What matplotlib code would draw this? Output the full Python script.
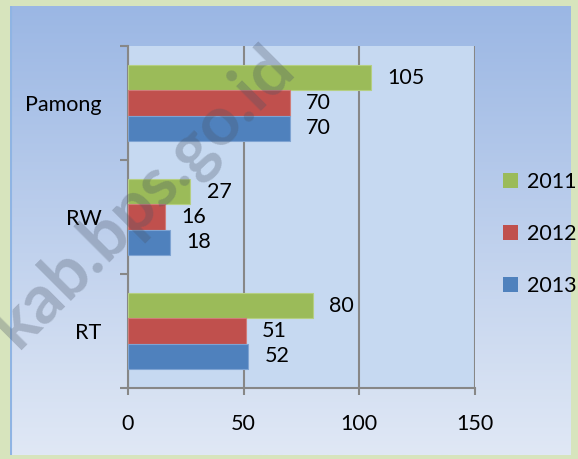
import numpy as np
import matplotlib
matplotlib.use('Agg')
import matplotlib.pyplot as plt
from matplotlib.patches import Patch

plt.rcParams['font.family'] = ['Lato', 'DejaVu Sans']

categories = ['RT', 'RW', 'Pamong']
years = ['2011', '2012', '2013']
v2011 = [80, 27, 105]
v2012 = [51, 16, 70]
v2013 = [52, 18, 70]
xticks = [0, 50, 100, 150]

colors = ['#9BBB59', '#C0504D', '#4F81BD']
edges = ['#B5CF82', '#D07C79', '#7EA3D2']

W, H = 578, 459
fs = 15.5
fig = plt.figure(figsize=(W / 100, H / 100), dpi=100)
fig.patch.set_facecolor('#D7E4BD')

# panel background with vertical gradient
bg = fig.add_axes([10 / W, 1 - 455 / H, 561 / W, 449 / H], zorder=-10)
top = np.array([0x9B, 0xB7, 0xE4]) / 255
bot = np.array([0xE0, 0xE8, 0xF5]) / 255
t = np.linspace(0, 1, 256)[:, None]
grad = (top[None, :] * (1 - t) + bot[None, :] * t)[:, None, :]
bg.imshow(grad, aspect='auto', extent=[0, 1, 0, 1])
bg.axis('off')
bg.axvline(0.002, color='#8FB4E3', lw=1.5)

ax = fig.add_axes([128 / W, 1 - 388 / H, 347 / W, 342 / H])
ax.set_facecolor('#C6D9F1')

y = np.arange(len(categories))
h = 2 / 9
for vals, off, c, e in zip([v2011, v2012, v2013], [h, 0, -h], colors, edges):
    ax.barh(y + off, vals, h, color=c, edgecolor=e, lw=0.8, zorder=3)
    for yi, v in zip(y, vals):
        ax.text(v + 7, yi + off, str(v), va='center', ha='left', fontsize=fs, zorder=4)

ax.set_xlim(0, 150)
ax.set_ylim(-0.5, 2.5)
ax.set_xticks(xticks)
ax.set_xticklabels([str(x) for x in xticks], fontsize=fs)
ax.xaxis.grid(True, color='#878787', lw=1.5, zorder=1)
ax.set_axisbelow(True)

ax.set_yticks([-0.5, 0.5, 1.5, 2.5])
ax.set_yticklabels([])
ax.set_yticks(y, minor=True)
ax.set_yticklabels(categories, minor=True, fontsize=fs)
ax.tick_params(axis='y', which='major', direction='out', length=6, width=1.5, color='#878787')
ax.tick_params(axis='y', which='minor', length=0, pad=19)
ax.tick_params(axis='x', direction='out', length=5, width=1.5, color='#878787', pad=14)

for s in ['top', 'right']:
    ax.spines[s].set_visible(False)
for s in ['left', 'bottom']:
    ax.spines[s].set_color('#878787')
    ax.spines[s].set_linewidth(1.5)

handles = [Patch(facecolor=c, edgecolor='none') for c in colors]
fig.legend(handles, years, loc='center left', bbox_to_anchor=(484 / W, 1 - 234 / H),
           frameon=False, fontsize=fs, handlelength=0.7, handleheight=0.7,
           handletextpad=0.4, labelspacing=1.5)

# watermark
fig.text(18 / W, 1 - 350 / H, 'kab.bps.go.id', rotation=45, rotation_mode='anchor',
         ha='left', va='baseline', fontsize=49, fontweight='bold',
         color='#4a5566', alpha=0.3, zorder=20)

fig.savefig('out.png', dpi=100, facecolor=fig.get_facecolor())
